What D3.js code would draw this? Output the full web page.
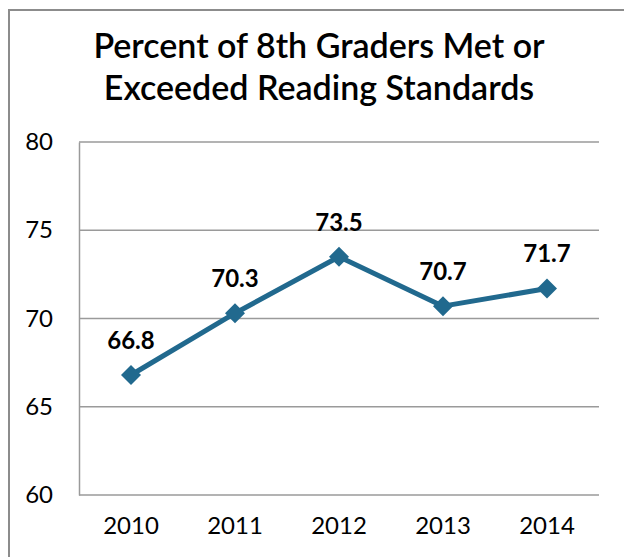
<!DOCTYPE html>
<html>
<head>
<meta charset="utf-8">
<script src="https://cdn.jsdelivr.net/npm/d3@7"></script>
<style>
  body { margin: 0; background: #fff; }
  svg { display: block; font-family: Lato, "Open Sans", sans-serif; }
</style>
</head>
<body>
<svg id="chart" width="624" height="557"></svg>
<script>
// Data
const years = ["2010", "2011", "2012", "2013", "2014"];
const percents = [66.8, 70.3, 73.5, 70.7, 71.7];
const yTicks = [60, 65, 70, 75, 80];
const titleLines = ["Percent of 8th Graders Met or", "Exceeded Reading Standards"];

const svg = d3.select("#chart"),
    width = +svg.attr("width"),
    height = +svg.attr("height"),
    margin = { top: 142, right: 25, bottom: 62, left: 79 },
    chartWidth = width - margin.left - margin.right,
    chartHeight = height - margin.top - margin.bottom;

const lineColor = "#21698e";
const gridColor = "#9a9a9a";

// Outer frame
svg.append("path")
    .attr("d", `M9,${height + 5}V10H${width + 5}`)
    .attr("fill", "none")
    .attr("stroke", "#8c8c8c")
    .attr("stroke-width", 2);

// Title
svg.append("text")
    .attr("x", 319)
    .attr("text-anchor", "middle")
    .style("font-size", "34px")
    .style("font-weight", 600)
    .style("fill", "#000")
    .selectAll("tspan")
    .data(titleLines)
    .join("tspan")
    .attr("x", 319)
    .attr("y", (d, i) => 58 + i * 42)
    .text(d => d);

const chart = svg.append("g")
    .attr("transform", `translate(${margin.left},${margin.top})`);

// Scales
const x = d3.scaleBand()
    .domain(years)
    .range([0, chartWidth]);

const y = d3.scaleLinear()
    .domain([60, 80])
    .range([chartHeight, 0]);

// Gridlines
chart.append("g")
    .selectAll("line")
    .data(yTicks)
    .join("line")
    .attr("x1", 0)
    .attr("x2", chartWidth)
    .attr("y1", d => y(d))
    .attr("y2", d => y(d))
    .attr("stroke", gridColor)
    .attr("stroke-width", 1.5);

// Y axis
const yAxis = chart.append("g")
    .call(d3.axisLeft(y).tickValues(yTicks).tickSize(0).tickPadding(26));
yAxis.select(".domain").attr("stroke", gridColor).attr("stroke-width", 1.5);
yAxis.selectAll("text")
    .style("font-size", "24px")
    .style("font-family", "Lato, sans-serif")
    .attr("fill", "#000");

// X axis
const xAxis = chart.append("g")
    .attr("transform", `translate(0,${chartHeight})`)
    .call(d3.axisBottom(x).tickSize(0).tickPadding(22));
xAxis.select(".domain").remove();
xAxis.selectAll("text")
    .style("font-size", "24px")
    .style("font-family", "Lato, sans-serif")
    .attr("fill", "#000");

const cx = d => x(d.year) + x.bandwidth() / 2;
const points = years.map((year, i) => ({ year, value: percents[i] }));

// Line
chart.append("path")
    .datum(points)
    .attr("fill", "none")
    .attr("stroke", lineColor)
    .attr("stroke-width", 5)
    .attr("stroke-linejoin", "round")
    .attr("d", d3.line().x(cx).y(d => y(d.value)));

// Diamond markers
chart.selectAll(".marker")
    .data(points)
    .join("path")
    .attr("class", "marker")
    .attr("transform", d => `translate(${cx(d)},${y(d.value)})`)
    .attr("d", "M0,-10L10,0L0,10L-10,0Z")
    .attr("fill", lineColor);

// Value labels
chart.selectAll(".value-label")
    .data(points)
    .join("text")
    .attr("class", "value-label")
    .attr("x", cx)
    .attr("y", d => y(d.value) - 26)
    .attr("text-anchor", "middle")
    .style("font-size", "24px")
    .style("font-weight", "bold")
    .style("fill", "#000")
    .text(d => d.value.toFixed(1));
</script>
</body>
</html>
